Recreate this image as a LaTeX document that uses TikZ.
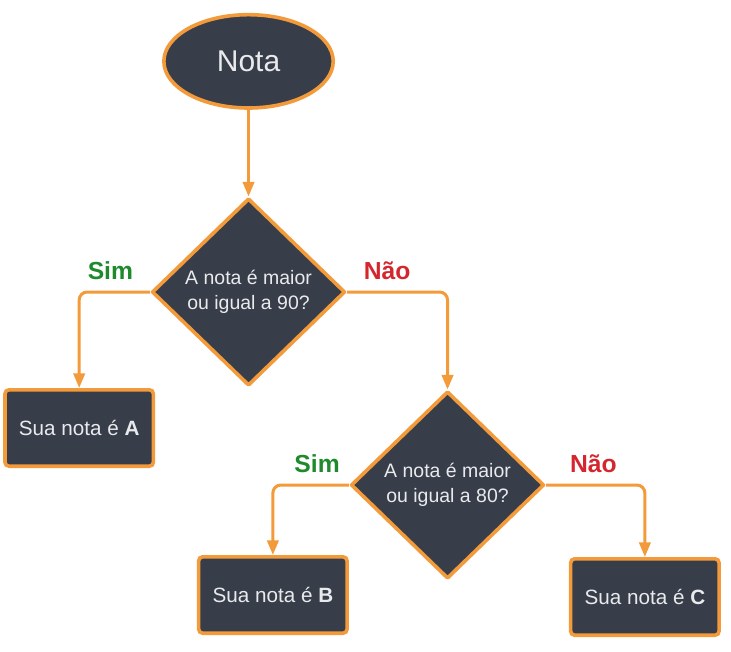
\documentclass[tikz,border=0pt]{standalone}
\usepackage{fontspec}
\setmainfont{Liberation Sans}
\usepackage{tikz}
\usetikzlibrary{arrows.meta,positioning,shapes.geometric}

\definecolor{laranja}{HTML}{F39A3B}
\definecolor{ardosia}{HTML}{383E49}
\definecolor{claro}{HTML}{E9EAED}
\definecolor{verde}{HTML}{1E8A2C}
\definecolor{vermelho}{HTML}{D5262E}

\begin{document}
\begin{tikzpicture}[->,>={Triangle[length=11pt,width=8.5pt]},line width=2.25pt,on grid,
		inicio/.style={ellipse,draw=laranja,fill=ardosia,text=claro,inner sep=0pt,line width=2.7pt,
			minimum width=127pt,minimum height=70pt,font=\fontsize{22.5}{27}\selectfont},
		decisao/.style={diamond,draw=laranja,fill=ardosia,text=claro,inner sep=0pt,line join=round,line width=2.7pt,
			minimum width=145pt,minimum height=140.5pt,align=center,font=\fontsize{14.6}{18.75}\selectfont},
		resultado/.style={rectangle,draw=laranja,fill=ardosia,text=claro,rounded corners=3pt,line width=2.7pt,
			minimum width=111.3pt,minimum height=57.3pt,font=\fontsize{15.5}{18}\selectfont},
		rotulo/.style={above=4.8pt,text height=13.5pt,text depth=0pt,font=\fontsize{18.5}{22}\selectfont\bfseries},
		sim/.style={rotulo,text=verde},
		nao/.style={rotulo,text=vermelho},
		ramo/.style={rounded corners=6pt,to path={-| (\tikztotarget) \tikztonodes}},
		every edge/.append style={draw=laranja}]
		
		\useasboundingbox (0,0) rectangle (548.25pt,-488.25pt);
		
		\node[inicio]    (nota) at (186.4pt,-46pt)                      {Nota};
		\node[decisao]   (q1) [below=173pt of nota]                     {A nota é maior\\ou igual a 90?};
		\node[resultado] (a)  [below left=102pt and 127pt of q1]        {Sua nota é \textbf{A}};
		\node[decisao]   (q2) [below right=144.75pt and 149.25pt of q1] {A nota é maior\\ou igual a 80?};
		\node[resultado] (b)  [below left=82.5pt and 131pt of q2]       {Sua nota é \textbf{B}};
		\node[resultado] (c)  [below right=84pt and 148pt of q2]        {Sua nota é \textbf{C}};
		
		\path (nota) edge                              (q1)
		(q1.west) edge [ramo] node [sim,pos=0.28] {Sim} (a)
		(q1.east) edge [ramo] node [nao,pos=0.2]  {Não} (q2)
		(q2.west) edge [ramo] node [sim,pos=0.21] {Sim} (b)
		(q2.east) edge [ramo] node [nao,pos=0.24] {Não} (c);
	\end{tikzpicture}
\end{document}
